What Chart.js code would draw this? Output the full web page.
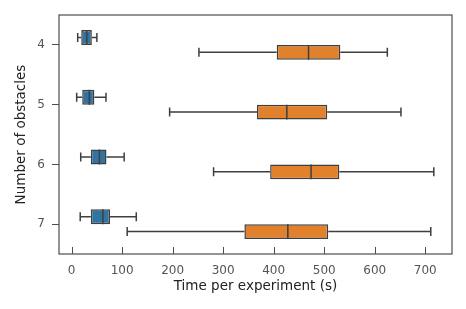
<!DOCTYPE html>
<html>
<head>
<meta charset="utf-8">
<script src="https://cdn.jsdelivr.net/npm/chart.js@4.4.1/dist/chart.umd.min.js"></script>
<style>
	html, body { margin: 0; padding: 0; background: #fff; }
	#wrap { width: 466px; height: 309px; }
</style>
</head>
<body>
<div id="wrap"><canvas id="boxChart"></canvas></div>
<script>
const obstacles = ["4", "5", "6", "7"];
const xTicks = [0, 100, 200, 300, 400, 500, 600, 700];

// [low whisker, q1, median, q3, high whisker] per obstacle count
const blueStats = [
	[12, 19, 30, 40, 50],
	[10, 21, 35, 45, 68],
	[18, 38, 55, 69, 104],
	[17, 38, 62, 76, 128],
];
const orangeStats = [
	[252, 406, 469, 532, 625],
	[194, 367, 426, 506, 652],
	[281, 393, 474, 530, 717],
	[110, 342, 428, 508, 711],
];

const blue = "#3274a1";
const orange = "#e1812c";
const lineColor = "#3f3f3f";
const font = "'DejaVu Sans', sans-serif";

// whiskers, caps, medians and frame drawn from the scales
const boxPlotExtras = {
	id: "boxPlotExtras",
	afterDatasetsDraw(chart) {
		const ctx = chart.ctx;
		const xScale = chart.scales.x;
		const area = chart.chartArea;
		const allStats = [blueStats, orangeStats];

		ctx.save();
		ctx.strokeStyle = lineColor;
		ctx.lineWidth = 1.5;
		allStats.forEach((stats, di) => {
			const meta = chart.getDatasetMeta(di);
			meta.data.forEach((bar, i) => {
				const [lo, q1, med, q3, hi] = stats[i];
				const y = bar.y;
				const h = bar.height;
				const capH = h * 0.3;
				const pLo = xScale.getPixelForValue(lo);
				const pQ1 = xScale.getPixelForValue(q1);
				const pMed = xScale.getPixelForValue(med);
				const pQ3 = xScale.getPixelForValue(q3);
				const pHi = xScale.getPixelForValue(hi);

				ctx.beginPath();
				ctx.moveTo(pLo, y);
				ctx.lineTo(pQ1, y);
				ctx.moveTo(pQ3, y);
				ctx.lineTo(pHi, y);
				ctx.moveTo(pLo, y - capH);
				ctx.lineTo(pLo, y + capH);
				ctx.moveTo(pHi, y - capH);
				ctx.lineTo(pHi, y + capH);
				ctx.moveTo(pMed, y - h / 2);
				ctx.lineTo(pMed, y + h / 2);
				ctx.stroke();
			});
		});

		// frame
		ctx.strokeStyle = "#4d4d4d";
		ctx.lineWidth = 1.2;
		ctx.strokeRect(area.left, area.top, area.right - area.left, area.bottom - area.top);

		// x ticks point inward
		ctx.lineWidth = 1;
		xScale.ticks.forEach((t) => {
			const px = Math.round(xScale.getPixelForValue(t.value)) + 0.5;
			ctx.beginPath();
			ctx.moveTo(px, area.bottom);
			ctx.lineTo(px, area.bottom - 7);
			ctx.stroke();
		});
		ctx.restore();
	},
};

new Chart(document.getElementById("boxChart"), {
	type: "bar",
	data: {
		labels: obstacles,
		datasets: [
			{
				data: blueStats.map((s) => [s[1], s[3]]),
				backgroundColor: blue,
				borderColor: lineColor,
				borderWidth: 1.5,
				borderSkipped: false,
			},
			{
				data: orangeStats.map((s) => [s[1], s[3]]),
				backgroundColor: orange,
				borderColor: lineColor,
				borderWidth: 1.5,
				borderSkipped: false,
			},
		],
	},
	options: {
		indexAxis: "y",
		responsive: true,
		maintainAspectRatio: false,
		animation: false,
		datasets: { bar: { categoryPercentage: 0.5, barPercentage: 1.0 } },
		layout: { padding: { top: 15, right: 14, left: 13, bottom: 14 } },
		plugins: {
			legend: { display: false },
			tooltip: { enabled: false },
		},
		scales: {
			x: {
				type: "linear",
				min: -25,
				max: 753,
				afterBuildTicks: (axis) => {
					axis.ticks = xTicks.map((v) => ({ value: v }));
				},
				afterFit: (axis) => {
					axis.height = 41;
				},
				grid: { display: false, drawTicks: false },
				border: { display: false },
				ticks: {
					padding: 10,
					color: "#555",
					font: { family: font, size: 12 },
					maxRotation: 0,
				},
				title: {
					display: true,
					text: "Time per experiment (s)",
					color: "#222",
					font: { family: font, size: 13.5 },
					padding: { top: 1, bottom: 0 },
				},
			},
			y: {
				type: "category",
				offset: true,
				afterFit: (axis) => {
					axis.width = 46;
				},
				grid: {
					offset: false,
					drawOnChartArea: false,
					drawTicks: true,
					tickLength: 7,
					tickColor: "#4d4d4d",
					tickWidth: 1,
				},
				border: { display: false },
				ticks: {
					padding: 7,
					color: "#555",
					font: { family: font, size: 12 },
				},
				title: {
					display: true,
					text: "Number of obstacles",
					color: "#222",
					font: { family: font, size: 13.5 },
					padding: { top: 0, bottom: 4 },
				},
			},
		},
	},
	plugins: [boxPlotExtras],
});
</script>
</body>
</html>
